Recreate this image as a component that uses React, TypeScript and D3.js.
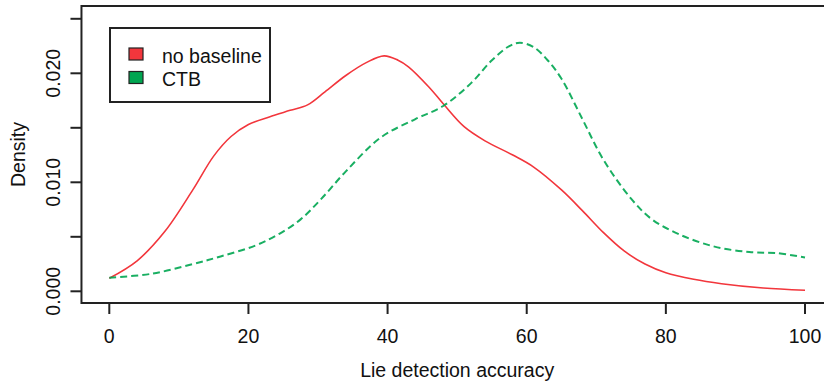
import React from "react";
import * as d3 from "d3";

// Lie detection accuracy (x) and estimated density values
const noBaselineX = [0, 4, 8, 12, 15, 17.5, 20, 23, 26, 28.5, 31, 34, 37, 39.5, 41.5, 43, 46, 48, 51, 54, 58, 61, 65, 68, 71, 74, 77, 80, 84, 88, 94, 100];
const noBaselineY = [0.0012, 0.0028, 0.0055, 0.0093, 0.0124, 0.0142, 0.0153, 0.016, 0.0166, 0.0171, 0.0183, 0.0198, 0.021, 0.0216, 0.0212, 0.0206, 0.0187, 0.0172, 0.0151, 0.0138, 0.0125, 0.0114, 0.0093, 0.0074, 0.0054, 0.0037, 0.0025, 0.0017, 0.0011, 0.0007, 0.0003, 0.0001];

const ctbX = [0, 6, 12, 16, 21, 24.5, 27.5, 30.5, 34, 39, 44, 48, 52, 55, 57.5, 59, 61, 63, 65, 68, 71, 75, 78, 82, 87, 92, 96, 100];
const ctbY = [0.00125, 0.0016, 0.0025, 0.0032, 0.0042, 0.0053, 0.0066, 0.0085, 0.011, 0.0141, 0.0158, 0.017, 0.0191, 0.0212, 0.0225, 0.0228, 0.0224, 0.0212, 0.0195, 0.0158, 0.0121, 0.0085, 0.0066, 0.0052, 0.0041, 0.0036, 0.0035, 0.0031];

const xTicks = [0, 20, 40, 60, 80, 100];
const yTicks = [0, 0.005, 0.01, 0.015, 0.02, 0.025];
const yTickLabels = ["0.000", "", "0.010", "", "0.020", ""];

const seriesNames = ["no baseline", "CTB"];
const seriesColors = ["#f2363c", "#00a651"];

const FONT = "'Liberation Sans', Arial, sans-serif";

export default function App() {
  const width = 824;
  const height = 384;

  // scales (plot region incl. R-style 4% padding on x)
  const x = d3.scaleLinear().domain([0, 100]).range([109.3, 805]);
  const y = d3.scaleLinear().domain([0, 0.02]).range([291.3, 73.3]);

  const boxLeft = x(-4);
  const boxRight = x(104);
  const boxTop = 6;
  const boxBottom = 303;

  const line = d3
    .line<[number, number]>()
    .x((d) => x(d[0]))
    .y((d) => y(d[1]))
    .curve(d3.curveCatmullRom.alpha(0.5));

  const redPts = noBaselineX.map((v, i) => [v, noBaselineY[i]] as [number, number]);
  const greenPts = ctbX.map((v, i) => [v, ctbY[i]] as [number, number]);

  const tickLen = 11;

  return (
    <svg
      width={width}
      height={height}
      style={{ position: "absolute", left: 0, top: 0, background: "#fff" }}
      fontFamily={FONT}
    >
      <defs>
        <clipPath id="plotClip">
          <rect x={boxLeft} y={boxTop} width={boxRight - boxLeft} height={boxBottom - boxTop} />
        </clipPath>
      </defs>

      {/* curves */}
      <g clipPath="url(#plotClip)">
        <path d={line(redPts) || ""} fill="none" stroke={seriesColors[0]} strokeWidth={1.6} />
        <path
          d={line(greenPts) || ""}
          fill="none"
          stroke={seriesColors[1]}
          strokeWidth={2}
          strokeDasharray="7,4"
          opacity={0.9}
        />
      </g>

      {/* box */}
      <rect
        x={boxLeft}
        y={boxTop}
        width={boxRight - boxLeft}
        height={boxBottom - boxTop}
        fill="none"
        stroke="#222"
        strokeWidth={2}
      />

      {/* x axis */}
      <g>
        {xTicks.map((t) => (
          <g key={t}>
            <line x1={x(t)} x2={x(t)} y1={boxBottom} y2={boxBottom + tickLen} stroke="#222" strokeWidth={2} />
            <text x={x(t)} y={343} textAnchor="middle" fontSize={19.5} fill="#111">
              {t}
            </text>
          </g>
        ))}
        <text x={(boxLeft + boxRight) / 2} y={377} textAnchor="middle" fontSize={19.5} fill="#111">
          Lie detection accuracy
        </text>
      </g>

      {/* y axis */}
      <g>
        {yTicks.map((t, i) => (
          <g key={t}>
            <line x1={boxLeft - tickLen} x2={boxLeft} y1={y(t)} y2={y(t)} stroke="#222" strokeWidth={2} />
            {yTickLabels[i] && (
              <text
                transform={`translate(60, ${y(t)}) rotate(-90)`}
                textAnchor="middle"
                fontSize={19.5}
                fill="#111"
              >
                {yTickLabels[i]}
              </text>
            )}
          </g>
        ))}
        <text
          transform={`translate(25, ${(boxTop + boxBottom) / 2}) rotate(-90)`}
          textAnchor="middle"
          fontSize={19.5}
          fill="#111"
        >
          Density
        </text>
      </g>

      {/* legend */}
      <g>
        <rect x={110} y={28} width={160} height={74} fill="#fff" stroke="#222" strokeWidth={2} />
        {seriesNames.map((name, i) => (
          <g key={name} transform={`translate(0, ${i * 23.5})`}>
            <rect x={129} y={48} width={14} height={12} fill={seriesColors[i]} stroke="#222" strokeWidth={1.2} />
            <text x={162} y={62.5} fontSize={19.5} fill="#111">
              {name}
            </text>
          </g>
        ))}
      </g>
    </svg>
  );
}
